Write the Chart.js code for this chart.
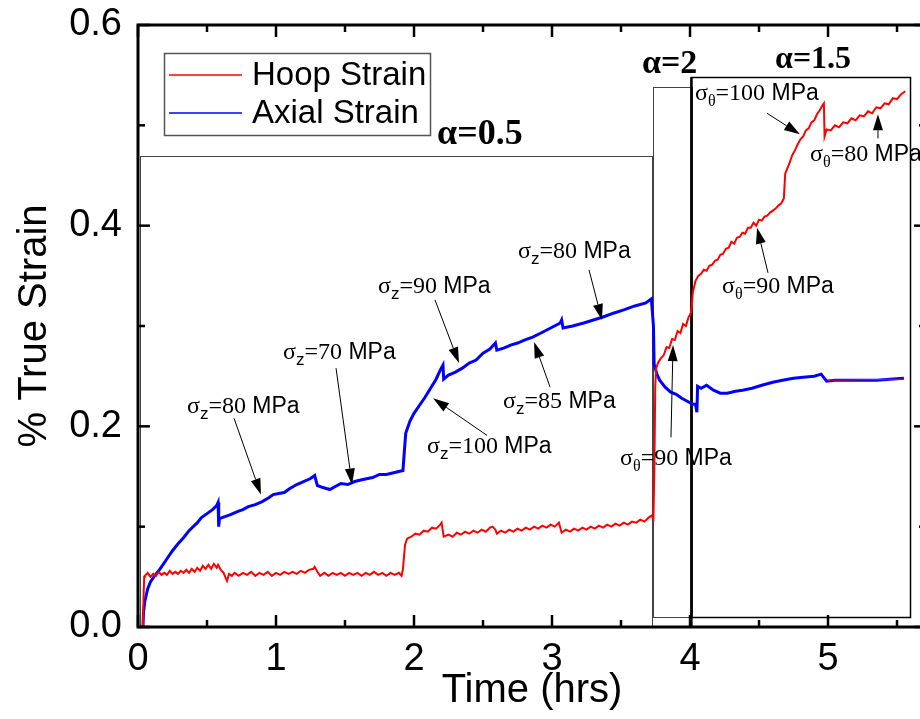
<!DOCTYPE html>
<html>
<head>
<meta charset="utf-8">
<script src="https://cdn.jsdelivr.net/npm/chart.js@4"></script>
<style>
  html, body { margin: 0; padding: 0; background: #fff; overflow: hidden; }
  #wrap { width: 932px; height: 719px; }
</style>
</head>
<body>
<div id="wrap"><canvas id="strainChart" width="932" height="719"></canvas></div>
<script>
// time (hrs), % true strain
const axialData = [
  [0.036,0.000],[0.04,0.015],[0.05,0.026],[0.07,0.038],[0.09,0.045],[0.12,0.051],[0.15,0.056],
  [0.18,0.062],[0.22,0.070],[0.25,0.076],[0.29,0.083],[0.33,0.089],[0.37,0.096],[0.40,0.100],
  [0.43,0.104],[0.46,0.109],[0.50,0.113],[0.54,0.117],[0.57,0.121],[0.58,0.124],[0.585,0.100],
  [0.59,0.108],[0.63,0.110],[0.67,0.112],[0.72,0.115],[0.76,0.117],[0.80,0.120],[0.85,0.122],
  [0.90,0.125],[0.95,0.129],[0.98,0.132],[1.02,0.133],[1.06,0.134],[1.10,0.138],[1.15,0.142],
  [1.20,0.145],[1.25,0.148],[1.28,0.151],[1.30,0.141],[1.34,0.139],[1.39,0.137],[1.43,0.140],
  [1.47,0.143],[1.52,0.142],[1.57,0.145],[1.63,0.147],[1.70,0.149],[1.75,0.152],[1.80,0.152],
  [1.86,0.154],[1.92,0.156],[1.93,0.175],[1.94,0.193],[1.97,0.205],[2.00,0.213],[2.04,0.221],
  [2.08,0.229],[2.12,0.238],[2.16,0.247],[2.19,0.256],[2.21,0.261],[2.215,0.247],[2.25,0.251],
  [2.30,0.254],[2.35,0.258],[2.40,0.263],[2.45,0.266],[2.50,0.273],[2.55,0.277],[2.59,0.283],
  [2.60,0.276],[2.65,0.278],[2.70,0.281],[2.75,0.283],[2.80,0.286],[2.86,0.289],[2.92,0.293],
  [2.99,0.298],[3.06,0.303],[3.07,0.306],[3.08,0.298],[3.15,0.300],[3.23,0.303],[3.30,0.306],
  [3.37,0.309],[3.45,0.313],[3.52,0.316],[3.60,0.320],[3.68,0.323],[3.72,0.327],[3.735,0.300],
  [3.74,0.262],[3.76,0.252],[3.78,0.246],[3.82,0.239],[3.86,0.234],[3.90,0.232],[3.94,0.228],
  [3.98,0.225],[4.02,0.222],[4.04,0.222],[4.05,0.214],[4.055,0.240],[4.08,0.238],[4.12,0.241],
  [4.17,0.236],[4.22,0.233],[4.27,0.233],[4.33,0.235],[4.38,0.236],[4.45,0.238],[4.52,0.241],
  [4.60,0.244],[4.67,0.246],[4.75,0.248],[4.82,0.249],[4.90,0.250],[4.95,0.252],[4.99,0.245],
  [5.05,0.246],[5.15,0.246],[5.25,0.246],[5.35,0.246],[5.45,0.247],[5.55,0.248]
];
const hoopData = [
  [0.036,0.000],[0.04,0.030],[0.045,0.050],[0.05,0.051],[0.07,0.054],[0.09,0.050],[0.11,0.053],
  [0.13,0.051],[0.15,0.055],[0.17,0.052],[0.19,0.054],[0.21,0.052],[0.23,0.056],[0.25,0.053],
  [0.27,0.055],[0.29,0.053],[0.31,0.056],[0.33,0.054],[0.35,0.057],[0.37,0.054],[0.39,0.058],
  [0.41,0.055],[0.43,0.059],[0.45,0.056],[0.47,0.061],[0.49,0.058],[0.51,0.062],[0.53,0.058],
  [0.55,0.063],[0.57,0.059],[0.58,0.062],[0.60,0.057],[0.62,0.054],[0.635,0.049],[0.645,0.046],
  [0.66,0.053],[0.68,0.051],[0.70,0.054],[0.73,0.051],[0.76,0.054],[0.79,0.052],[0.82,0.055],
  [0.85,0.051],[0.88,0.054],[0.91,0.052],[0.94,0.055],[0.97,0.051],[1.00,0.054],[1.03,0.052],
  [1.06,0.055],[1.09,0.053],[1.12,0.055],[1.15,0.053],[1.18,0.056],[1.21,0.054],[1.24,0.057],
  [1.27,0.058],[1.28,0.060],[1.30,0.055],[1.32,0.051],[1.35,0.054],[1.38,0.051],[1.41,0.054],
  [1.44,0.052],[1.47,0.054],[1.50,0.051],[1.53,0.054],[1.56,0.052],[1.59,0.054],[1.62,0.051],
  [1.65,0.054],[1.68,0.052],[1.71,0.055],[1.74,0.052],[1.77,0.054],[1.80,0.051],[1.83,0.054],
  [1.86,0.052],[1.89,0.054],[1.91,0.051],[1.92,0.058],[1.935,0.082],[1.95,0.088],[1.98,0.090],
  [2.01,0.093],[2.04,0.092],[2.07,0.096],[2.10,0.095],[2.13,0.099],[2.16,0.098],[2.19,0.102],
  [2.20,0.104],[2.215,0.090],[2.25,0.092],[2.28,0.090],[2.31,0.094],[2.34,0.092],[2.37,0.095],
  [2.40,0.093],[2.43,0.096],[2.46,0.094],[2.49,0.097],[2.52,0.095],[2.55,0.099],[2.57,0.100],
  [2.59,0.097],[2.60,0.093],[2.63,0.096],[2.66,0.094],[2.69,0.097],[2.72,0.095],[2.75,0.098],
  [2.78,0.096],[2.81,0.099],[2.84,0.097],[2.87,0.100],[2.90,0.098],[2.93,0.101],[2.96,0.099],
  [2.99,0.102],[3.02,0.100],[3.05,0.104],[3.07,0.094],[3.10,0.097],[3.13,0.095],[3.16,0.098],
  [3.19,0.096],[3.22,0.099],[3.25,0.097],[3.28,0.100],[3.31,0.098],[3.34,0.101],[3.37,0.099],
  [3.40,0.102],[3.43,0.100],[3.46,0.103],[3.49,0.101],[3.52,0.104],[3.55,0.102],[3.58,0.105],
  [3.61,0.104],[3.64,0.107],[3.67,0.105],[3.70,0.109],[3.72,0.111],[3.735,0.108],[3.742,0.160],
  [3.748,0.240],[3.755,0.258],[3.77,0.264],[3.79,0.268],[3.81,0.271],[3.83,0.279],[3.85,0.278],
  [3.87,0.287],[3.89,0.286],[3.91,0.295],[3.93,0.293],[3.95,0.302],[3.97,0.300],[3.99,0.309],
  [4.00,0.311],[4.01,0.315],[4.02,0.333],[4.04,0.345],[4.06,0.350],[4.08,0.352],[4.10,0.356],
  [4.12,0.355],[4.14,0.360],[4.16,0.361],[4.18,0.365],[4.20,0.366],[4.22,0.371],[4.24,0.372],
  [4.26,0.377],[4.28,0.378],[4.30,0.384],[4.32,0.382],[4.34,0.388],[4.36,0.389],[4.38,0.393],
  [4.40,0.392],[4.42,0.398],[4.44,0.398],[4.46,0.403],[4.48,0.400],[4.50,0.406],[4.52,0.405],
  [4.54,0.409],[4.56,0.410],[4.58,0.413],[4.60,0.415],[4.62,0.417],[4.64,0.420],[4.66,0.422],
  [4.68,0.427],[4.685,0.440],[4.69,0.452],[4.72,0.462],[4.74,0.470],[4.76,0.475],[4.78,0.481],
  [4.80,0.486],[4.82,0.489],[4.84,0.495],[4.86,0.497],[4.88,0.503],[4.90,0.505],[4.92,0.511],
  [4.94,0.515],[4.96,0.520],[4.97,0.522],[4.975,0.489],[4.99,0.496],[5.02,0.495],[5.05,0.500],
  [5.08,0.498],[5.11,0.503],[5.14,0.502],[5.17,0.507],[5.20,0.505],[5.23,0.510],[5.26,0.509],
  [5.29,0.514],[5.32,0.512],[5.35,0.518],[5.38,0.517],[5.41,0.522],[5.44,0.521],[5.47,0.527],
  [5.50,0.526],[5.53,0.531],[5.56,0.534]
];
const hoopTailData = [[5.0,0.246],[5.55,0.247]];

const xTicks = [0, 1, 2, 3, 4, 5];
const xMinorTicks = [0.5, 1.5, 2.5, 3.5, 4.5, 5.5];
const yTicks = [0, 0.2, 0.4, 0.6];
const yMinorTicks = [0.1, 0.3, 0.5];

// loading regions: [t start, t end, strain bottom, strain top]
const regions = [
  { name: 'α=0.5', box: [0.018, 3.73, 0, 0.469], label: [2.167, 0.481], size: 36, color: '#444', lw: 1 },
  { name: 'α=2',   box: [3.73, 4.01, 0.010, 0.538], label: [3.652, 0.552], size: 34, color: '#444', lw: 1 },
  { name: 'α=1.5', box: [4.01, 5.60, 0.010, 0.548], label: [4.616, 0.557], size: 32, color: '#000', lw: 1.5 }
];

// stress annotations: subscript, value, text anchor, arrow tail, arrow head (time, strain)
const notes = [
  { sub: 'z', val: '80',  at: [0.355, 0.213], from: [0.696, 0.208], to: [0.891, 0.132] },
  { sub: 'z', val: '70',  at: [1.051, 0.267], from: [1.435, 0.258], to: [1.551, 0.142] },
  { sub: 'z', val: '90',  at: [1.739, 0.333], from: [2.152, 0.326], to: [2.326, 0.263] },
  { sub: 'z', val: '100', at: [2.094, 0.173], from: [2.529, 0.191], to: [2.138, 0.228] },
  { sub: 'z', val: '85',  at: [2.645, 0.218], from: [2.986, 0.239], to: [2.870, 0.284] },
  { sub: 'z', val: '80',  at: [2.754, 0.368], from: [3.268, 0.356], to: [3.362, 0.306] },
  { sub: 'θ', val: '90',  at: [3.493, 0.161], from: [3.862, 0.189], to: [3.877, 0.281] },
  { sub: 'θ', val: '90',  at: [4.232, 0.333], from: [4.565, 0.353], to: [4.486, 0.398] },
  { sub: 'θ', val: '100', at: [4.036, 0.525], from: [4.558, 0.512], to: [4.797, 0.491] },
  { sub: 'θ', val: '80',  at: [4.870, 0.464], from: [5.362, 0.487], to: [5.362, 0.511] }
];

const SANS = '"Liberation Sans", Arial, sans-serif';
const SERIF = '"Liberation Serif", "Times New Roman", serif';

Chart.defaults.font.family = SANS;
Chart.defaults.color = '#000';

function toPoints(arr) {
  return arr.map(p => ({ x: p[0], y: p[1] }));
}

function drawArrow(ctx, x0, y0, x1, y1) {
  const a = Math.atan2(y1 - y0, x1 - x0);
  const L = 16, W = 5;
  const bx = x1 - L * Math.cos(a), by = y1 - L * Math.sin(a);
  ctx.beginPath();
  ctx.moveTo(x0, y0);
  ctx.lineTo(bx, by);
  ctx.stroke();
  ctx.beginPath();
  ctx.moveTo(x1, y1);
  ctx.lineTo(bx + W * Math.sin(a), by - W * Math.cos(a));
  ctx.lineTo(bx - W * Math.sin(a), by + W * Math.cos(a));
  ctx.closePath();
  ctx.fill();
}

function drawNote(ctx, x, y, n) {
  let cx = x;
  const put = (text, font, dy) => {
    ctx.font = font;
    ctx.fillText(text, cx, y + dy);
    cx += ctx.measureText(text).width;
  };
  put('σ', '24px ' + SERIF, 0);
  if (n.sub === 'z') put('z', '17px ' + SANS, 6);
  else put('θ', '16px ' + SERIF, 6);
  put('=' + n.val, '24px ' + SERIF, 0);
  put(' MPa', '23px ' + SANS, 0);
}

const decorations = {
  id: 'decorations',
  beforeDatasetsDraw(chart) {
    const ctx = chart.ctx;
    const X = v => chart.scales.x.getPixelForValue(v);
    const Y = v => chart.scales.y.getPixelForValue(v);
    ctx.save();
    regions.forEach(r => {
      const [t0, t1, v0, v1] = r.box;
      ctx.strokeStyle = r.color;
      ctx.lineWidth = r.lw;
      ctx.strokeRect(Math.round(X(t0)) + 0.5, Math.round(Y(v1)) + 0.5,
        Math.round(X(t1) - X(t0)), Math.round(Y(v0) - Y(v1)));
    });
    // heavy divider where alpha=1.5 starts
    const last = regions[2].box;
    ctx.strokeStyle = '#000';
    ctx.lineWidth = 2.5;
    ctx.beginPath();
    ctx.moveTo(X(last[0]), Y(last[3]));
    ctx.lineTo(X(last[0]), Y(0));
    ctx.stroke();
    ctx.restore();
  },
  afterDatasetsDraw(chart) {
    const ctx = chart.ctx;
    const area = chart.chartArea;
    const X = v => chart.scales.x.getPixelForValue(v);
    const Y = v => chart.scales.y.getPixelForValue(v);
    ctx.save();

    // frame and inward ticks on all four sides
    ctx.strokeStyle = '#000';
    ctx.lineWidth = 3;
    ctx.strokeRect(area.left, area.top, area.right - area.left, area.bottom - area.top);
    ctx.lineWidth = 2.5;
    const tick = (x0, y0, x1, y1) => { ctx.beginPath(); ctx.moveTo(x0, y0); ctx.lineTo(x1, y1); ctx.stroke(); };
    xTicks.forEach(v => { const x = X(v); tick(x, area.bottom, x, area.bottom - 12); tick(x, area.top, x, area.top + 12); });
    xMinorTicks.forEach(v => { const x = X(v); tick(x, area.bottom, x, area.bottom - 7); tick(x, area.top, x, area.top + 7); });
    yTicks.forEach(v => { const y = Y(v); tick(area.left, y, area.left + 12, y); tick(area.right, y, area.right - 12, y); });
    yMinorTicks.forEach(v => { const y = Y(v); tick(area.left, y, area.left + 7, y); tick(area.right, y, area.right - 7, y); });

    // region labels
    ctx.fillStyle = '#000';
    ctx.textBaseline = 'alphabetic';
    ctx.textAlign = 'left';
    regions.forEach(r => {
      ctx.font = 'bold ' + r.size + 'px ' + SERIF;
      ctx.fillText(r.name, X(r.label[0]), Y(r.label[1]));
    });

    // stress notes with arrows
    ctx.lineWidth = 1;
    notes.forEach(n => {
      drawNote(ctx, X(n.at[0]), Y(n.at[1]), n);
      drawArrow(ctx, X(n.from[0]), Y(n.from[1]), X(n.to[0]), Y(n.to[1]));
    });

    // legend
    const lx = area.left + 26, ly = area.top + 28;
    ctx.strokeStyle = '#555';
    ctx.lineWidth = 1.5;
    ctx.strokeRect(lx + 0.5, ly + 0.5, 266, 82);
    ctx.font = '33px ' + SANS;
    ctx.textBaseline = 'middle';
    chart.data.datasets.filter(d => d.label).forEach((d, i) => {
      const y = ly + 22 + i * 38;
      ctx.strokeStyle = d.borderColor;
      ctx.lineWidth = 1.5;
      ctx.beginPath();
      ctx.moveTo(lx + 5, y);
      ctx.lineTo(lx + 78, y);
      ctx.stroke();
      ctx.fillStyle = '#000';
      ctx.fillText(d.label, lx + 88, y + 1);
    });
    ctx.restore();
  }
};

new Chart(document.getElementById('strainChart'), {
  type: 'line',
  data: {
    datasets: [
      { label: '', data: toPoints(hoopTailData), borderColor: '#ff0000', borderWidth: 1, pointRadius: 0 },
      { label: 'Hoop Strain', data: toPoints(hoopData), borderColor: '#ff0000', borderWidth: 2, pointRadius: 0 },
      { label: 'Axial Strain', data: toPoints(axialData), borderColor: '#0000ff', borderWidth: 3, pointRadius: 0 }
    ]
  },
  options: {
    responsive: false,
    animation: false,
    layout: { padding: { left: 0, right: 6, top: 25, bottom: 0 } },
    plugins: { legend: { display: false }, tooltip: { enabled: false } },
    scales: {
      x: {
        type: 'linear', min: 0, max: 5.71,
        grid: { display: false, drawTicks: false },
        border: { display: false },
        afterBuildTicks: s => { s.ticks = xTicks.map(v => ({ value: v })); },
        afterFit: s => { s.height = 92; s.paddingLeft = 0; s.paddingRight = 0; },
        ticks: { padding: 10, font: { size: 38 }, color: '#000', callback: v => String(v) },
        title: { display: true, text: 'Time (hrs)', font: { size: 40 }, color: '#000', padding: { top: 0, bottom: 4 } }
      },
      y: {
        min: 0, max: 0.6,
        grid: { display: false, drawTicks: false },
        border: { display: false },
        afterBuildTicks: s => { s.ticks = yTicks.map(v => ({ value: v })); },
        afterFit: s => { s.width = 138; s.paddingTop = 0; s.paddingBottom = 0; },
        ticks: { padding: 16, font: { size: 38 }, color: '#000', callback: v => v.toFixed(1) },
        title: { display: true, text: '% True Strain', font: { size: 40 }, color: '#000', padding: { top: 11, bottom: 0 } }
      }
    }
  },
  plugins: [decorations]
});
</script>
</body>
</html>
